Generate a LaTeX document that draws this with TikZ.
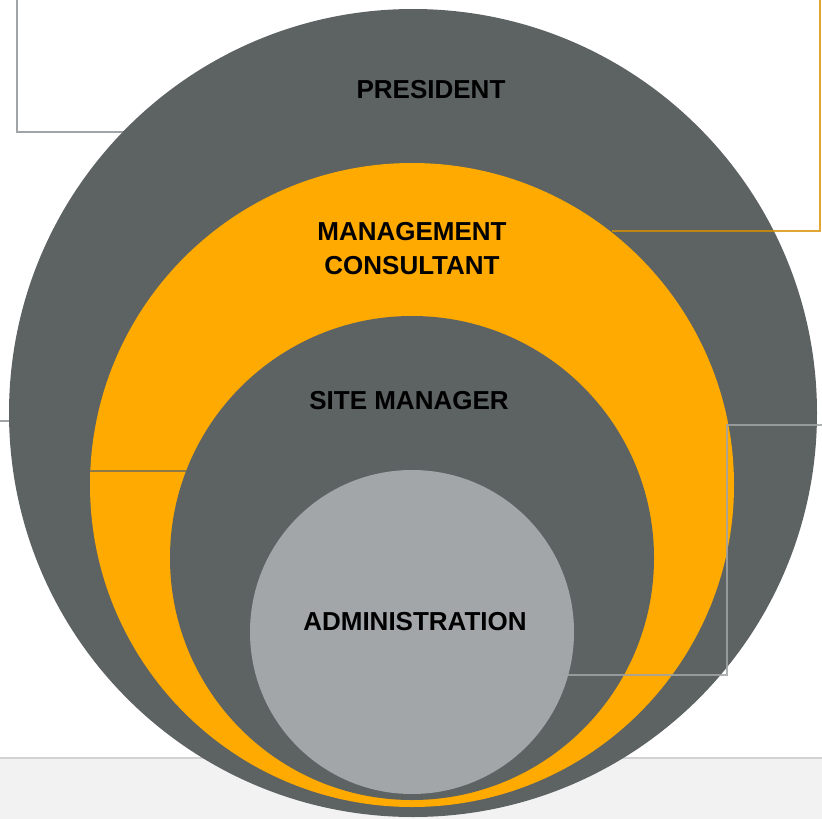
\documentclass[tikz,border=0pt]{standalone}
\usepackage{fontspec}
\setmainfont{Liberation Sans}
\definecolor{darkring}{HTML}{5D6262}
\definecolor{amber}{HTML}{FFAA00}
\definecolor{paleslate}{HTML}{A2A6A9}
\definecolor{band}{HTML}{F2F2F2}
\definecolor{bandline}{HTML}{D2D2D2}
\definecolor{frame}{HTML}{A0A4A6}
\begin{document}
\begin{tikzpicture}[x=1pt,y=-1pt,
  level/.style={circle,inner sep=0pt,minimum size=#1},
  label/.style={font=\bfseries\fontsize{26}{34}\selectfont,text=black,align=center},
  frameline/.style={draw=frame,line width=1.6pt},
  amberline/.style={draw=amber!85!black,line width=1.6pt,opacity=0.8}]
  \useasboundingbox (0,0) rectangle (822,819);
  % page band at the bottom
  \fill[band] (0,758) rectangle (822,819);
  \draw[bandline,line width=1.2pt] (0,758) -- (822,758);
  % frame strokes behind the circles
  \draw[frameline] (17,0) -- (17,132) -- (140,132);
  \draw[frameline] (0,421) -- (30,421);
  % concentric levels
  \node[level=808pt,fill=darkring] (pres) at (413,413) {};
  \draw[amberline] (612,231) -- (820,231) -- (820,0);
  \node[level=644pt,fill=amber] (mgmt) at (412,485) {};
  \draw[draw=darkring!70!amber,line width=1.6pt] (90,471) -- (186,471);
  \node[level=484pt,fill=darkring] (site) at (412,558) {};
  \node[level=324pt,fill=paleslate] (admin) at (412,632) {};
  % frame stroke drawn over the levels
  \draw[frameline,opacity=0.85] (822,425) -- (727,425) -- (727,675) -- (560,675);
  \draw[frameline,opacity=0.3] (560,675) -- (410,675);
  % labels
  \node[label] (tpres) at (431,90) {PRESIDENT};
  \node[label] (tmgmt) at (412,249) {MANAGEMENT\\CONSULTANT};
  \node[label] (tsite) at (409,401) {SITE MANAGER};
  \node[label] (tadmin) at (415,622) {ADMINISTRATION};
\end{tikzpicture}
\end{document}
